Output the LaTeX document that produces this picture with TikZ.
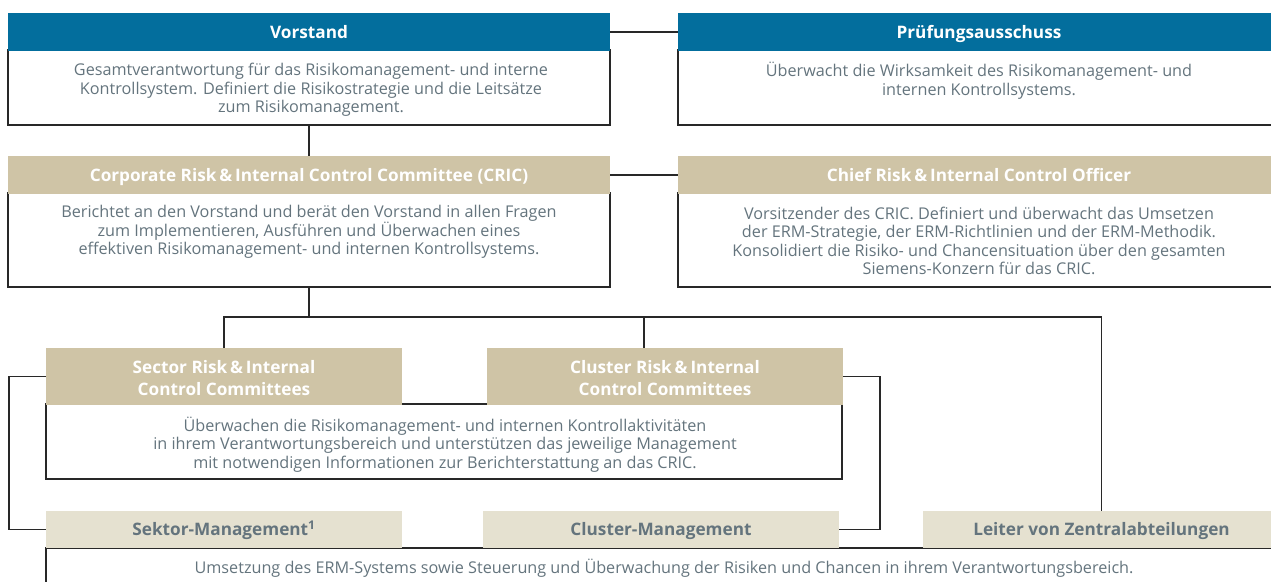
\documentclass[tikz,border=0pt]{standalone}
\usepackage{fontspec}
\setmainfont{Open Sans}
\definecolor{sblue}{RGB}{3,110,157}
\definecolor{stan}{RGB}{207,196,166}
\definecolor{sbeige}{RGB}{229,225,208}
\definecolor{stext}{RGB}{100,116,125}
\definecolor{sline}{RGB}{40,40,40}
\begin{document}
\begin{tikzpicture}[x=1pt,y=-1pt,
  box/.style={inner sep=0pt,outer sep=0pt,anchor=north west},
  hfont/.style={font=\fontsize{17.2}{22}\selectfont\bfseries},
  oneline/.style={text height=14pt,text depth=2pt},
  hblue/.style={box,hfont,oneline,fill=sblue,text=white},
  htan/.style={box,hfont,fill=stan,text=white,align=center},
  htantext/.style={hfont,text=white,align=center,inner sep=0pt},
  hbeige/.style={box,hfont,oneline,fill=sbeige,text=stext},
  bodybox/.style={box,draw=sline,line width=1.1pt},
  btext/.style={text=stext,font=\fontsize{16.2}{18.5}\selectfont,align=center,inner sep=0pt},
  conn/.style={draw=sline,line width=1.1pt}]
\useasboundingbox (0,0) rectangle (1271,581);
\clip (0,0) rectangle (1271,581);
% bodies
\node[bodybox,minimum width=602pt,minimum height=75pt] (vorstandB) at (8,50) {};
\node[bodybox,minimum width=602pt,minimum height=75pt] (pruefB) at (678,50) {};
\node[bodybox,minimum width=602pt,minimum height=94pt] (cricB) at (8,193) {};
\node[bodybox,minimum width=602pt,minimum height=94pt] (chiefB) at (678,193) {};
\node[bodybox,minimum width=796pt,minimum height=75pt] (commB) at (46,404) {};
\coordinate (mgmtTop) at (46,548);
\coordinate (mgmtEnd) at (46,590);
\coordinate (mgmtRight) at (1290,548);
\draw[conn] (mgmtEnd) -- (mgmtTop) -- (mgmtRight);
% headers
\node[hblue,minimum width=602pt,minimum height=38pt] (vorstandH) at (8,13) {Vorstand};
\node[hblue,minimum width=602pt,minimum height=38pt] (pruefH) at (678,13) {Prüfungsausschuss};
\node[htan,oneline,minimum width=602pt,minimum height=38pt] (cricH) at (8,156) {Corporate Risk\,\&\,Internal Control Committee (CRIC)};
\node[htan,oneline,minimum width=602pt,minimum height=38pt] (chiefH) at (678,156) {Chief Risk\,\&\,Internal Control Officer};
\node[htan,minimum width=356pt,minimum height=57pt] (sectorH) at (46,348) {};
\node[htantext,yshift=-2pt] (sectorHT) at (sectorH.center) {Sector Risk\,\&\,Internal\\Control Committees};
\node[htan,minimum width=356pt,minimum height=57pt] (clusterH) at (487,348) {};
\node[htantext,yshift=-2pt] (clusterHT) at (clusterH.center) {Cluster Risk\,\&\,Internal\\Control Committees};
\node[hbeige,minimum width=356pt,minimum height=37pt] (sektorM) at (46,511) {Sektor-Management\textsuperscript{1}};
\node[hbeige,minimum width=356pt,minimum height=37pt] (clusterM) at (483,511) {Cluster-Management};
\node[hbeige,minimum width=357pt,minimum height=37pt] (leiterM) at (923,511) {Leiter von Zentralabteilungen};
% body texts
\node[btext] (vorstandT) at (311,90) {Gesamtverantwortung für das Risikomanagement- und interne\\Kontrollsystem. Definiert die Risikostrategie und die Leitsätze\\zum Risikomanagement.};
\node[btext] (pruefT) at (979,80.5) {Überwacht die Wirksamkeit des Risikomanagement- und\\internen Kontrollsystems.};
\node[btext] (cricT) at (309,232) {Berichtet an den Vorstand und berät den Vorstand in allen Fragen\\zum Implementieren, Ausführen und Überwachen eines\\effektiven Risikomanagement- und internen Kontrollsystems.};
\node[btext] (chiefT) at (979,241) {Vorsitzender des CRIC. Definiert und überwacht das Umsetzen\\der ERM-Strategie, der ERM-Richtlinien und der ERM-Methodik.\\Konsolidiert die Risiko- und Chancensituation über den gesamten\\Siemens-Konzern für das CRIC.};
\node[btext] (commT) at (445,444.5) {Überwachen die Risikomanagement- und internen Kontrollaktivitäten\\in ihrem Verantwortungsbereich und unterstützen das jeweilige Management\\mit notwendigen Informationen zur Berichterstattung an das CRIC.};
\node[btext] (mgmtT) at (664,568) {Umsetzung des ERM-Systems sowie Steuerung und Überwachung der Risiken und Chancen in ihrem Verantwortungsbereich.};
% connectors
\draw[conn] (vorstandH.east) -- (pruefH.west);
\draw[conn] (cricH.east) -- (chiefH.west);
\draw[conn] (vorstandB.south) -- (cricH.north);
\coordinate (bus) at (308,317);
\coordinate (clTop) at (644,348);
\draw[conn] (cricB.south) -- (cricB.south |- bus);
\draw[conn] (sectorH.north) |- (bus) -| (leiterM.north);
\draw[conn] (clTop) -- (clTop |- bus);
\draw[conn] (sectorH.west) -- ++(-37,0) |- (sektorM.west);
\draw[conn] (clusterH.east) -- ++(37,0) |- (clusterM.east);
\end{tikzpicture}
\end{document}
